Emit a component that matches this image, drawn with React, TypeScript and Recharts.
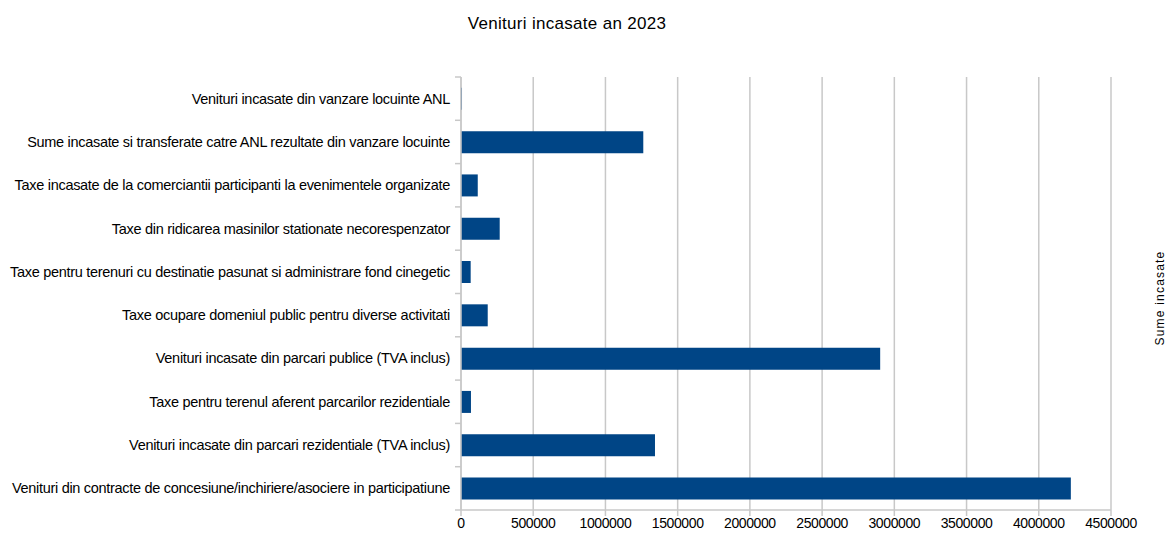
import { BarChart, Bar, XAxis, YAxis, CartesianGrid } from "recharts";

const categories = [
  "Venituri incasate din vanzare locuinte ANL",
  "Sume incasate si transferate catre ANL rezultate din vanzare locuinte",
  "Taxe incasate de la comerciantii participanti la evenimentele organizate",
  "Taxe din ridicarea masinilor stationate necorespenzator",
  "Taxe pentru terenuri cu destinatie pasunat si administrare fond cinegetic",
  "Taxe ocupare domeniul public pentru diverse activitati",
  "Venituri incasate din parcari publice (TVA inclus)",
  "Taxe pentru terenul aferent parcarilor rezidentiale",
  "Venituri incasate din parcari rezidentiale (TVA inclus)",
  "Venituri din contracte de concesiune/inchiriere/asociere in participatiune",
];

const sume = [7000, 1262000, 116000, 268000, 67000, 185000, 2902000, 69000, 1343000, 4222000];

const xTicks = [0, 500000, 1000000, 1500000, 2000000, 2500000, 3000000, 3500000, 4000000, 4500000];

const data = categories.map((name, i) => ({ name, value: sume[i] }));

const W = 1169;
const H = 538;
const M = { top: 77, right: 58, bottom: 0, left: 0 };
const X_AXIS_H = 28;
const AXIS_W = 461;
const FONT = "'Liberation Sans', Arial, sans-serif";
const GRID = "#c8c8c8";
const band = (H - M.top - M.bottom - X_AXIS_H) / categories.length;

function CatTick(props: any) {
  const { x, y, payload, index } = props;
  const ax = x + 8;
  return (
    <g>
      <text x={x - 3} y={y} dy={5} textAnchor="end" fontSize={14.5} fill="#000" fontFamily={FONT} letterSpacing={-0.3}>
        {payload.value}
      </text>
      {index === 0 && <line x1={ax - 6} x2={ax} y1={y - band / 2} y2={y - band / 2} stroke={GRID} strokeWidth={1.5} />}
      <line x1={ax - 6} x2={ax} y1={y + band / 2} y2={y + band / 2} stroke={GRID} strokeWidth={1.5} />
    </g>
  );
}

export default function App() {
  return (
    <div style={{ position: "absolute", left: 0, top: 0, width: W, height: H, background: "#fff" }}>
      <style>{"body{margin:0}"}</style>
      <div
        style={{
          position: "absolute",
          left: 0,
          width: 1134,
          top: 14,
          textAlign: "center",
          fontFamily: FONT,
          fontSize: 17,
          letterSpacing: 0.3,
          color: "#000",
        }}
      >
        Venituri incasate an 2023
      </div>
      <div
        style={{
          position: "absolute",
          left: 1160,
          top: 298,
          transform: "translate(-50%, -50%) rotate(-90deg)",
          whiteSpace: "nowrap",
          fontFamily: FONT,
          fontSize: 12,
          letterSpacing: 1.2,
          color: "#000",
        }}
      >
        Sume incasate
      </div>
      <div style={{ position: "absolute", left: 0, top: 0 }}>
        <BarChart width={W} height={H} data={data} layout="vertical" margin={M} barCategoryGap="25%">
          <CartesianGrid horizontal={false} stroke={GRID} strokeWidth={1.5} />
          <XAxis
            type="number"
            domain={[0, 4500000]}
            ticks={xTicks}
            interval={0}
            height={X_AXIS_H}
            stroke={GRID}
            strokeWidth={1.5}
            tickSize={6}
            tickMargin={2}
            tick={{ fill: "#000", fontSize: 14, fontFamily: FONT, letterSpacing: -0.4 }}
          />
          <XAxis
            xAxisId="top"
            orientation="top"
            type="number"
            domain={[0, 4500000]}
            height={0}
            tick={false}
            tickLine={false}
            stroke={GRID}
            strokeWidth={1.5}
          />
          <YAxis
            type="category"
            dataKey="name"
            width={AXIS_W}
            interval={0}
            tickLine={false}
            tickSize={0}
            tickMargin={8}
            stroke={GRID}
            strokeWidth={1.5}
            tick={<CatTick />}
          />
          <Bar dataKey="value" fill="#004586" isAnimationActive={false} />
        </BarChart>
      </div>
    </div>
  );
}
